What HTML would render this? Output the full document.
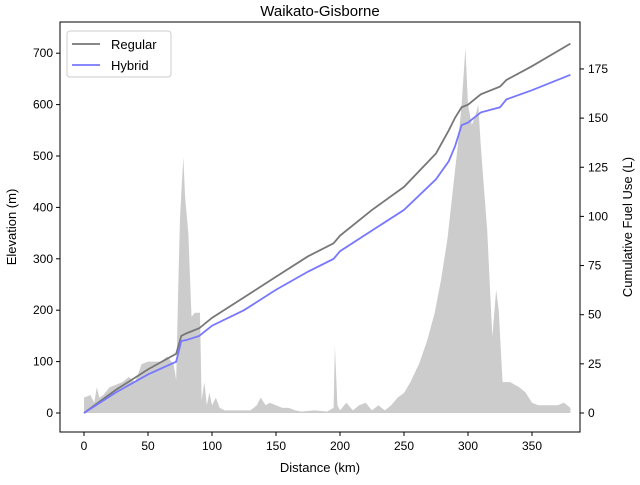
<!DOCTYPE html>
<html><head><meta charset="utf-8"><style>
body{margin:0;background:#fff}
svg text{font-family:"Liberation Sans","DejaVu Sans",sans-serif;fill:#000}
</style></head><body>
<svg id="chart" width="640" height="480" viewBox="0 0 640 480">
<rect width="640" height="480" fill="#fff"/>
<g id="plot"></g>
<rect x="60" y="22" width="520" height="410" fill="none" stroke="#000" stroke-width="1"/>
<g id="axes"></g>
<text x="320" y="16" font-size="15" text-anchor="middle">Waikato-Gisborne</text>
<text x="320" y="472" font-size="13" text-anchor="middle">Distance (km)</text>
<text transform="translate(16,227) rotate(-90)" font-size="13" text-anchor="middle">Elevation (m)</text>
<text transform="translate(632,227) rotate(-90)" font-size="13" text-anchor="middle">Cumulative Fuel Use (L)</text>
<g>
<rect x="67" y="31" width="104" height="46" rx="3" fill="#fff" fill-opacity="0.8" stroke="#ccc"/>
<g><line x1="72" y1="44" x2="100" y2="44" stroke="#777" stroke-width="1.8"/><text x="111" y="49" font-size="13">Regular</text></g>
<g><line x1="72" y1="65" x2="100" y2="65" stroke="#7777ff" stroke-width="1.8"/><text x="111" y="70" font-size="13">Hybrid</text></g>
</g>
</svg>
<script>
const elevKm=[0,5,8,10,12,15,20,25,30,35,40,45,50,55,60,65,70,72,73.7,75,77.6,79,81.5,84,86.6,90.6,91.9,94,96,98,100,103,106,110,120,130,135,138,142,145,150,155,160,165,170,180,190,195,196,198,200,205,210,215,220,225,230,235,240,245,250,255,262,268,274,279,284,288,292,295,298,300,303,306,308,310,312,315,319,322,324,327,333,340,345,350,355,360,370,375,380];
const elevM=[30,35,20,50,30,35,50,55,60,70,60,95,100,100,100,110,95,64,252,380,498,420,350,187,195,195,25,60,15,40,15,30,10,5,5,5,15,30,15,20,15,10,10,5,3,5,3,10,130,15,5,20,5,15,20,5,15,5,15,30,39,60,97,140,195,260,340,430,520,600,710,600,560,580,600,520,453,356,148,240,200,60,60,50,40,20,15,15,15,20,10];
const fuelKm=[0,25,50,72,76,80,90,100,125,150,175,195,200,225,250,275,285,290,295,300,310,325,330,350,380];
const regularL=[0,11.8,22.2,30.1,39.2,40.5,43.1,48.4,58.8,69.3,79.7,86.3,90.2,103.3,115.0,132.0,143.8,150.3,155.5,156.8,162.1,166.0,169.4,176.4,187.9];
const hybridL=[0,10.5,19.6,26.1,36.6,37.1,39.2,44.4,52.3,62.7,71.9,78.4,82.3,92.8,103.3,118.9,128.1,135.9,146.4,147.7,152.9,155.5,159.5,164.2,172.0];
const xTicks=[0,50,100,150,200,250,300,350];
const yTicks=[0,100,200,300,400,500,600,700];
const y2Ticks=[0,25,50,75,100,125,150,175];

const NS="http://www.w3.org/2000/svg";
const X=k=>84+k*1.28, Y=m=>413-m*0.514, Y2=l=>413-l*1.966;
const plot=document.getElementById('plot'), axes=document.getElementById('axes');
function mk(t,a,p){const e=document.createElementNS(NS,t);for(const k in a)e.setAttribute(k,a[k]);p.appendChild(e);return e;}
let d='M'+X(elevKm[0])+','+Y(0);
elevKm.forEach((k,i)=>d+=' L'+X(k)+','+Y(elevM[i]));
d+=' L'+X(elevKm[elevKm.length-1])+','+Y(0)+' Z';
const area=mk('path',{d:d,fill:'#cccccc'},plot);


function line(arr,color,name){
  const pts=fuelKm.map((k,i)=>X(k)+','+Y2(arr[i])).join(' ');
  const p=mk('polyline',{points:pts,fill:'none',stroke:color,'stroke-width':1.8},plot);
  
  
}
line(regularL,'#777','regular-line');
line(hybridL,'#7777ff','hybrid-line');
xTicks.forEach(v=>{
  mk('line',{x1:X(v),x2:X(v),y1:432,y2:436,stroke:'#000'},axes);
  const t=mk('text',{x:X(v),y:450,'font-size':12,'text-anchor':'middle'},axes);t.textContent=v;
  
  
});
yTicks.forEach(v=>{
  mk('line',{x1:56,x2:60,y1:Y(v),y2:Y(v),stroke:'#000'},axes);
  const t=mk('text',{x:53,y:Y(v)+4,'font-size':12,'text-anchor':'end'},axes);t.textContent=v;
  
  
});
y2Ticks.forEach(v=>{
  mk('line',{x1:580,x2:584,y1:Y2(v),y2:Y2(v),stroke:'#000'},axes);
  const t=mk('text',{x:588,y:Y2(v)+4,'font-size':12,'text-anchor':'start'},axes);t.textContent=v;
  
  
});
</script>
</body></html>
